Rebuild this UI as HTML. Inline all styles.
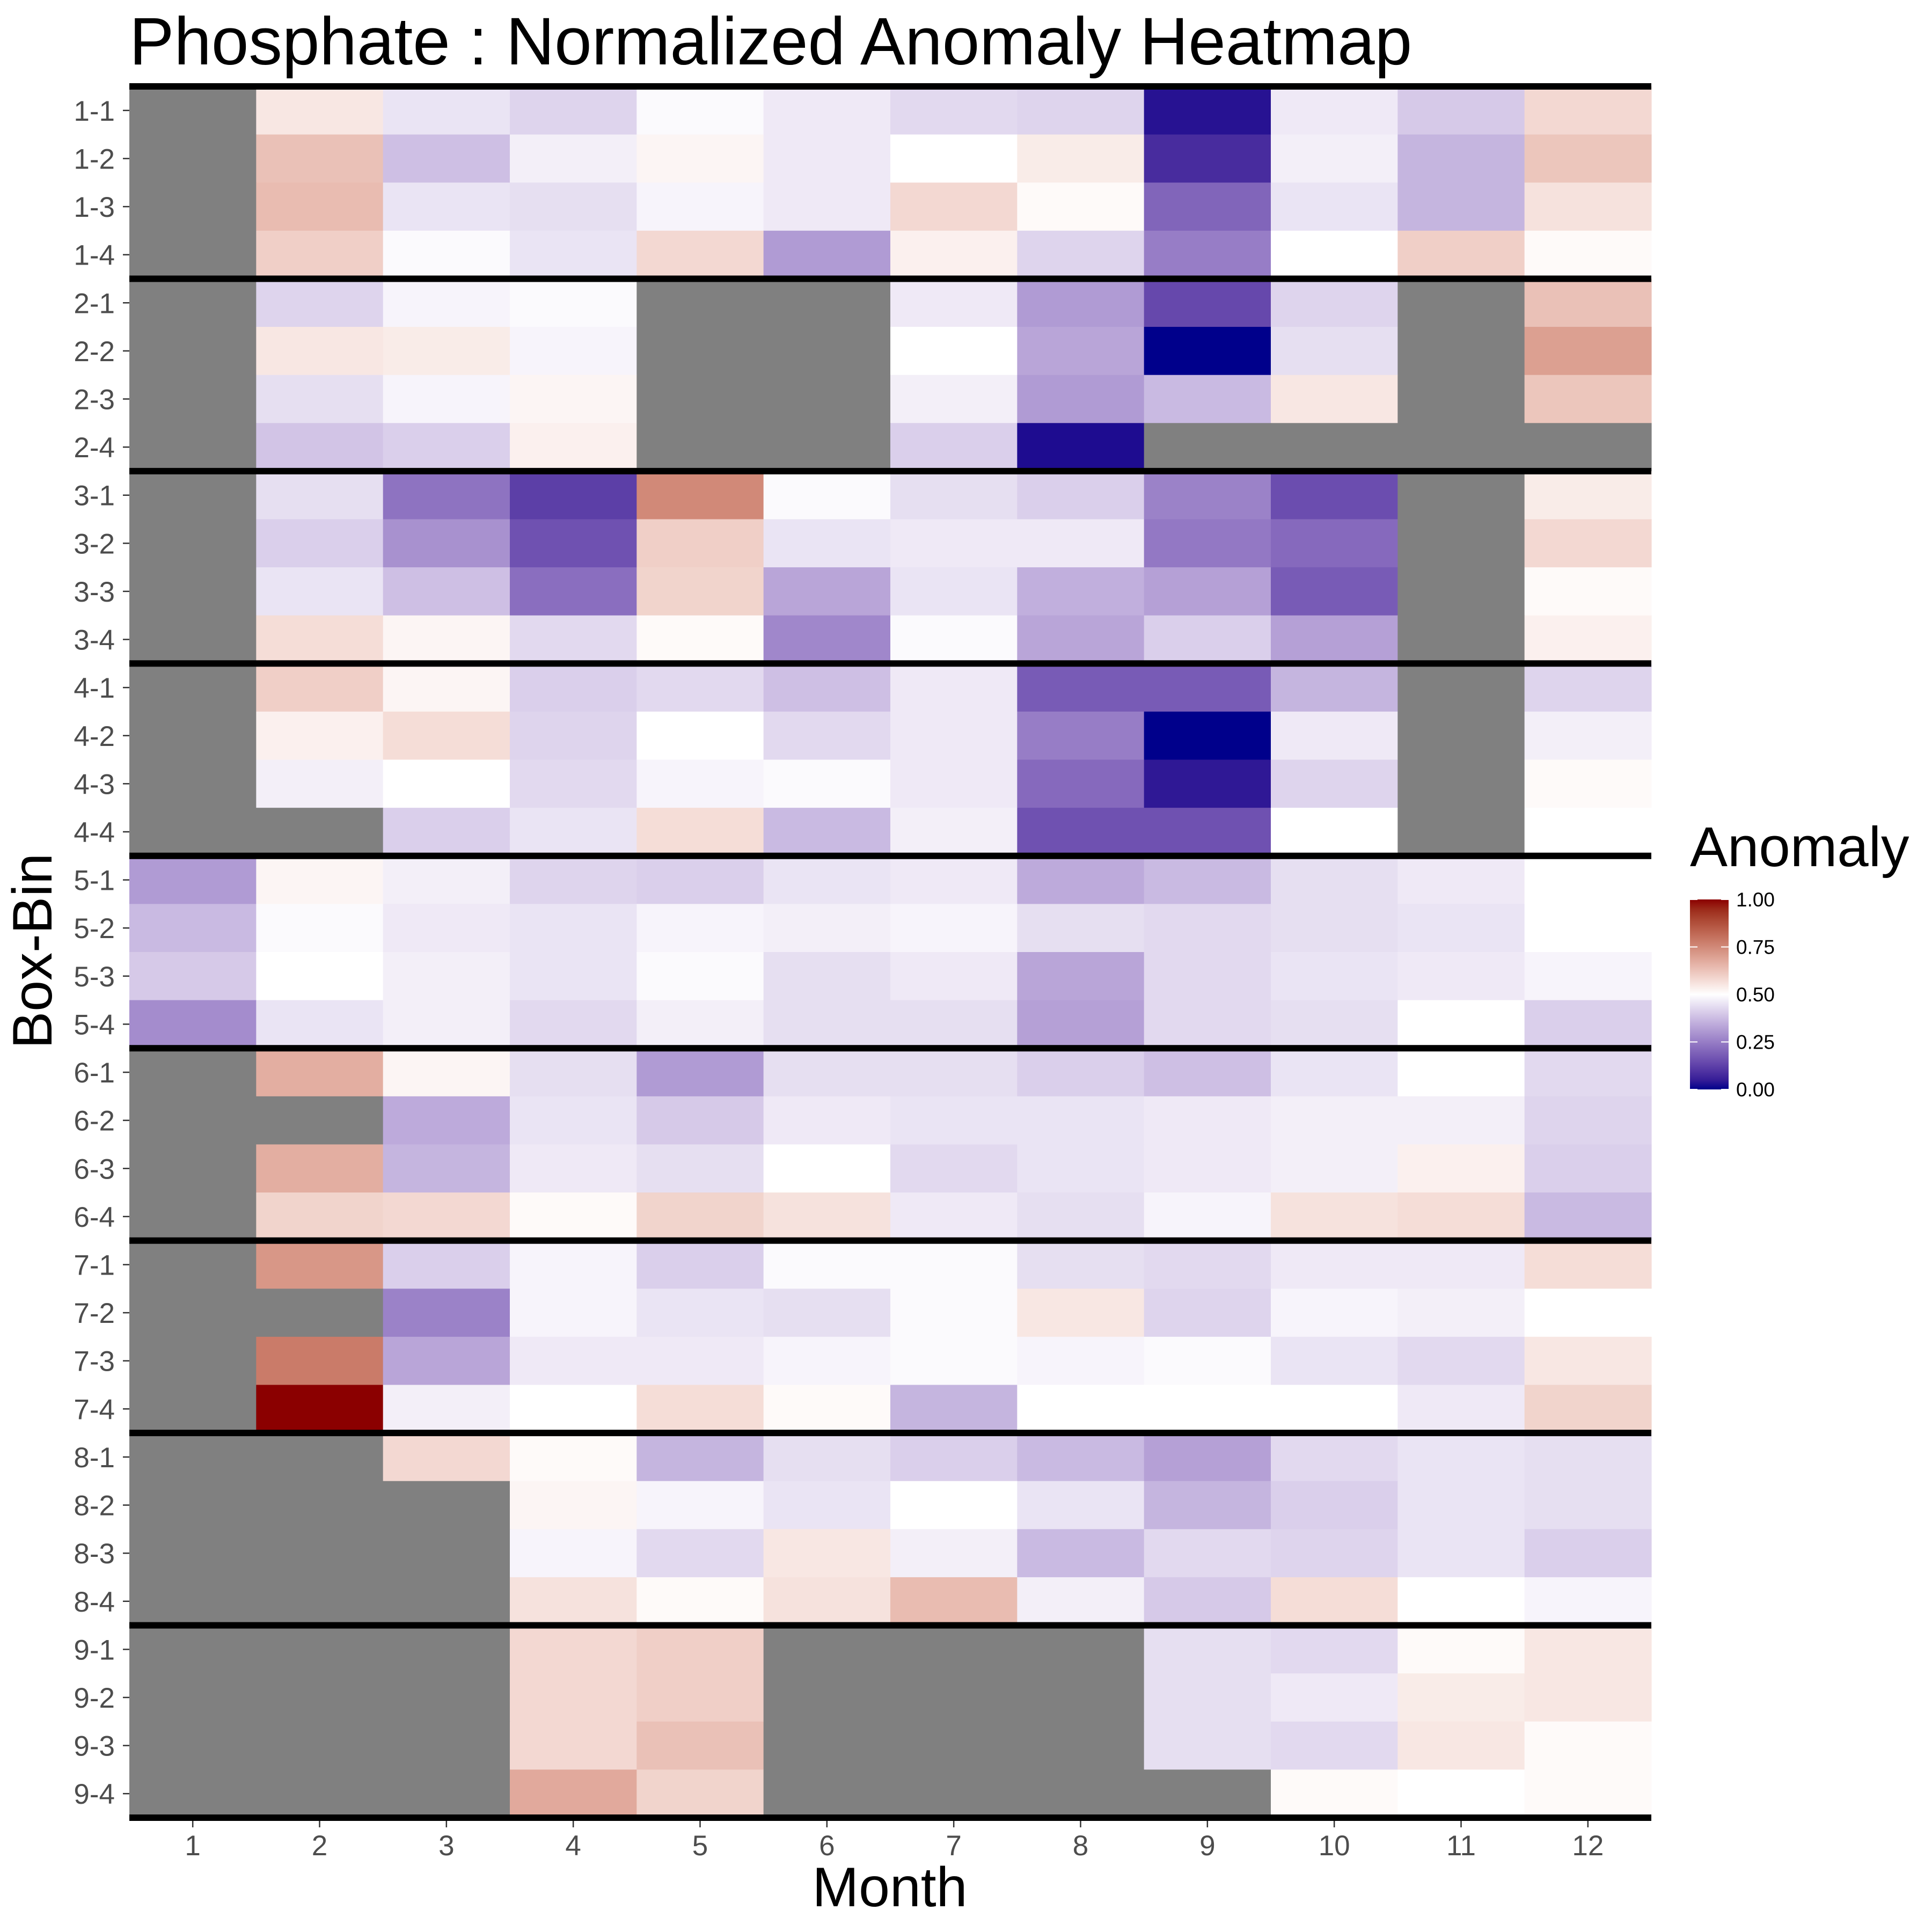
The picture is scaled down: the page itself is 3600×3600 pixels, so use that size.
<!DOCTYPE html>
<html><head><meta charset="utf-8"><style>
html,body{margin:0;padding:0;background:#fff;}
svg{display:block;font-family:"Liberation Sans",sans-serif;}
</style></head><body>
<svg id="chart" width="3600" height="3600" viewBox="0 0 3600 3600" xmlns="http://www.w3.org/2000/svg">
<defs><linearGradient id="lg" x1="0" y1="1" x2="0" y2="0"></linearGradient></defs>
<rect width="3600" height="3600" fill="#fff"/>
<text x="241" y="120" font-size="125" fill="#000">Phosphate : Normalized Anomaly Heatmap</text>
<g id="cells"></g>
<g id="seps"></g>
<g id="yaxis"></g>
<g id="xaxis"></g>
<text x="1658" y="3552" font-size="104" text-anchor="middle" fill="#000">Month</text>
<text transform="translate(96,1772) rotate(-90)" font-size="104" text-anchor="middle" fill="#000">Box-Bin</text>
<g id="legend">
<text x="3149" y="1614" font-size="105" fill="#000">Anomaly</text>
<rect x="3149" y="1676" width="72" height="354" fill="url(#lg)"/>
</g>
</svg>
<script>
const months = [1,2,3,4,5,6,7,8,9,10,11,12];
const bins = ["1-1","1-2","1-3","1-4","2-1","2-2","2-3","2-4","3-1","3-2","3-3","3-4","4-1","4-2","4-3","4-4","5-1","5-2","5-3","5-4","6-1","6-2","6-3","6-4","7-1","7-2","7-3","7-4","8-1","8-2","8-3","8-4","9-1","9-2","9-3","9-4"];
const legendTicks = [0,0.25,0.5,0.75,1];
const legendLabels = ["0.00","0.25","0.50","0.75","1.00"];
const N = null;
const values = [
[N,.55,.45,.42,.49,.46,.43,.42,.03,.46,.40,.58],
[N,.63,.38,.47,.52,.46,.50,.54,.08,.47,.36,.62],
[N,.64,.45,.44,.48,.46,.58,.51,.20,.45,.36,.56],
[N,.60,.49,.45,.58,.31,.53,.42,.25,.50,.60,.51],
[N,.42,.48,.49,N,N,.46,.31,.14,.42,N,.63],
[N,.55,.54,.48,N,N,.50,.33,.00,.44,N,.70],
[N,.44,.48,.52,N,N,.47,.31,.37,.55,N,.62],
[N,.39,.41,.53,N,N,.41,.02,N,N,N,N],
[N,.44,.23,.12,.75,.49,.44,.41,.26,.15,N,.54],
[N,.41,.29,.16,.60,.45,.46,.46,.24,.21,N,.58],
[N,.45,.38,.22,.59,.33,.45,.35,.32,.18,N,.51],
[N,.57,.52,.43,.51,.27,.49,.33,.41,.32,N,.53],
[N,.60,.52,.41,.43,.38,.46,.18,.18,.36,N,.42],
[N,.53,.57,.42,.50,.43,.46,.25,.00,.46,N,.47],
[N,.47,.50,.43,.48,.49,.46,.21,.04,.42,N,.51],
[N,N,.41,.45,.57,.37,.47,.16,.16,.50,N,.50],
[.31,.52,.47,.42,.41,.45,.46,.34,.37,.44,.46,.50],
[.37,.49,.46,.45,.48,.47,.48,.44,.43,.44,.45,.50],
[.40,.50,.47,.45,.49,.44,.46,.33,.43,.45,.46,.48],
[.28,.45,.47,.43,.47,.44,.44,.32,.43,.44,.50,.41],
[N,.67,.52,.44,.31,.44,.44,.41,.38,.45,.50,.43],
[N,N,.34,.45,.40,.46,.45,.45,.46,.47,.47,.42],
[N,.67,.36,.46,.44,.50,.43,.45,.46,.47,.53,.41],
[N,.59,.58,.51,.59,.56,.46,.44,.48,.56,.57,.37],
[N,.72,.41,.48,.41,.49,.49,.44,.43,.46,.46,.57],
[N,N,.26,.48,.45,.44,.49,.55,.42,.48,.47,.50],
[N,.78,.33,.46,.46,.48,.49,.48,.49,.45,.43,.55],
[N,1.0,.47,.50,.57,.51,.36,.50,.50,.50,.46,.59],
[N,N,.58,.51,.36,.44,.41,.37,.32,.43,.45,.44],
[N,N,N,.52,.48,.45,.50,.45,.36,.41,.45,.44],
[N,N,N,.48,.43,.55,.47,.37,.43,.42,.45,.41],
[N,N,N,.56,.51,.56,.64,.47,.40,.57,.50,.48],
[N,N,N,.58,.60,N,N,N,.44,.43,.51,.55],
[N,N,N,.58,.60,N,N,N,.44,.46,.54,.55],
[N,N,N,.58,.63,N,N,N,.44,.43,.55,.51],
[N,N,N,.68,.59,N,N,N,N,.51,.50,.51]
];
const NS='http://www.w3.org/2000/svg';
const PL=241, PR=3077, PT=161, PB=3387;
const cw=(PR-PL)/months.length, rh=(PB-PT)/bins.length;
const xPos=i=>PL+i*cw, yPos=j=>PT+j*rh;
function toLin(c){c/=255;return c<=0.04045?c/12.92:Math.pow((c+0.055)/1.055,2.4);}
function fromLin(c){c=c<=0.0031308?12.92*c:1.055*Math.pow(c,1/2.4)-0.055;return Math.max(0,Math.min(255,Math.round(c*255)));}
function rgb2lab(r,g,b){r=toLin(r);g=toLin(g);b=toLin(b);
let x=(r*0.4124+g*0.3576+b*0.1805)/0.95047,y=r*0.2126+g*0.7152+b*0.0722,z=(r*0.0193+g*0.1192+b*0.9505)/1.08883;
const f=t=>t>0.008856?Math.cbrt(t):7.787*t+16/116;x=f(x);y=f(y);z=f(z);
return [116*y-16,500*(x-y),200*(y-z)];}
function lab2rgb(L,a,bb){let y=(L+16)/116,x=a/500+y,z=y-bb/200;
const fi=t=>t*t*t>0.008856?t*t*t:(t-16/116)/7.787;x=fi(x)*0.95047;y=fi(y);z=fi(z)*1.08883;
const r=x*3.2406+y*-1.5372+z*-0.4986,g=x*-0.9689+y*1.8758+z*0.0415,b=x*0.0557+y*-0.2040+z*1.0570;
return 'rgb('+fromLin(r)+','+fromLin(g)+','+fromLin(b)+')';}
const LOW=rgb2lab(0,0,139),MID=rgb2lab(255,255,255),HIGH=rgb2lab(139,0,0);
function color(v){let a,b,t;if(v<=0.5){a=LOW;b=MID;t=v/0.5;}else{a=MID;b=HIGH;t=(v-0.5)/0.5;}
return lab2rgb(a[0]+(b[0]-a[0])*t,a[1]+(b[1]-a[1])*t,a[2]+(b[2]-a[2])*t);}
const cells=document.getElementById('cells');
values.forEach((row,j)=>row.forEach((v,i)=>{
const r=document.createElementNS(NS,'rect');
r.setAttribute('x',xPos(i));r.setAttribute('y',yPos(j));
r.setAttribute('width',cw+0.6);r.setAttribute('height',rh+0.6);
r.setAttribute('fill',v===null?'#808080':color(v));


cells.appendChild(r);}));
const seps=document.getElementById('seps');
for(let j=0;j<=bins.length;j+=4){
const l=document.createElementNS(NS,'rect');
l.setAttribute('x',PL);l.setAttribute('y',yPos(j)-6);l.setAttribute('width',PR-PL);l.setAttribute('height',12);l.setAttribute('fill','#000');


seps.appendChild(l);}
const ya=document.getElementById('yaxis');
bins.forEach((b,j)=>{const yc=yPos(j)+rh/2;
const t=document.createElementNS(NS,'text');t.setAttribute('x',214);t.setAttribute('y',yc+19);t.setAttribute('text-anchor','end');t.setAttribute('font-size','53');t.setAttribute('fill','#4d4d4d');t.textContent=b;


ya.appendChild(t);
const k=document.createElementNS(NS,'line');k.setAttribute('x1',229);k.setAttribute('x2',241);k.setAttribute('y1',yc);k.setAttribute('y2',yc);k.setAttribute('stroke','#333');k.setAttribute('stroke-width','2.5');


ya.appendChild(k);});
const xa=document.getElementById('xaxis');
months.forEach((m,i)=>{const xc=xPos(i)+cw/2;
const t=document.createElementNS(NS,'text');t.setAttribute('x',xc);t.setAttribute('y',3457);t.setAttribute('text-anchor','middle');t.setAttribute('font-size','53');t.setAttribute('fill','#4d4d4d');t.textContent=m;


xa.appendChild(t);
const k=document.createElementNS(NS,'line');k.setAttribute('x1',xc);k.setAttribute('x2',xc);k.setAttribute('y1',3393);k.setAttribute('y2',3405);k.setAttribute('stroke','#333');k.setAttribute('stroke-width','2.5');


xa.appendChild(k);});
const lg=document.getElementById('lg');
for(let s=0;s<=20;s++){const st=document.createElementNS(NS,'stop');st.setAttribute('offset',(s/20));st.setAttribute('stop-color',color(s/20));lg.appendChild(st);}
const leg=document.getElementById('legend');
const LT=1676,LB=2030;
legendTicks.forEach((v,i)=>{const y=LB-(LB-LT)*v;
const t=document.createElementNS(NS,'text');t.setAttribute('x',3235);t.setAttribute('y',y+13);t.setAttribute('font-size','37');t.setAttribute('fill','#000');t.textContent=legendLabels[i];


leg.appendChild(t);
[[3149,3163],[3207,3221]].forEach(p=>{const k=document.createElementNS(NS,'line');k.setAttribute('x1',p[0]);k.setAttribute('x2',p[1]);k.setAttribute('y1',y);k.setAttribute('y2',y);k.setAttribute('stroke','#fff');k.setAttribute('stroke-width','2');


leg.appendChild(k);});});
</script>
</body></html>
